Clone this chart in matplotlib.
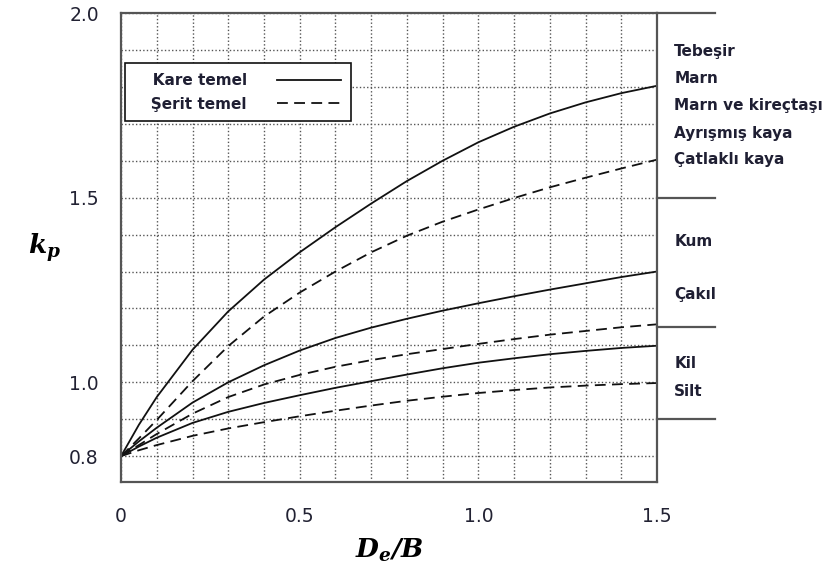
import numpy as np
import matplotlib.pyplot as plt
from matplotlib.ticker import MultipleLocator

plt.rcParams['font.family'] = ['DejaVu Sans']
plt.rcParams['mathtext.fontset'] = 'dejavuserif'

# D_e/B values
x = [0.0, 0.05, 0.1, 0.2, 0.3, 0.4, 0.5, 0.6, 0.7, 0.8, 0.9, 1.0, 1.1, 1.2, 1.3, 1.4, 1.5]

# kp (kare = square footing, serit = strip footing)
kare_kaya = [0.80, 0.885, 0.960, 1.088, 1.192, 1.278, 1.352, 1.420, 1.484, 1.545, 1.600, 1.650, 1.692, 1.728, 1.758, 1.783, 1.803]
serit_kaya = [0.80, 0.848, 0.898, 1.003, 1.098, 1.178, 1.243, 1.300, 1.352, 1.397, 1.435, 1.468, 1.499, 1.528, 1.554, 1.579, 1.603]
kare_kum = [0.80, 0.840, 0.877, 0.945, 1.000, 1.046, 1.086, 1.120, 1.148, 1.172, 1.194, 1.214, 1.233, 1.251, 1.268, 1.285, 1.300]
serit_kum = [0.80, 0.830, 0.860, 0.915, 0.960, 0.994, 1.020, 1.042, 1.060, 1.076, 1.090, 1.104, 1.117, 1.129, 1.139, 1.149, 1.157]
kare_kil = [0.80, 0.826, 0.850, 0.890, 0.920, 0.944, 0.965, 0.985, 1.003, 1.021, 1.038, 1.053, 1.065, 1.076, 1.085, 1.093, 1.099]
serit_kil = [0.80, 0.816, 0.830, 0.855, 0.875, 0.892, 0.908, 0.923, 0.937, 0.950, 0.961, 0.971, 0.979, 0.986, 0.991, 0.995, 0.998]

# soil groups on the right side
group_bounds = [2.0, 1.5, 1.15, 0.9]
group_labels = ['Tebeşir', 'Marn', 'Marn ve kireçtaşı', 'Ayrışmış kaya', 'Çatlaklı kaya',
                'Kum', 'Çakıl', 'Kil', 'Silt']
group_label_y = [1.896, 1.824, 1.749, 1.675, 1.603, 1.381, 1.237, 1.051, 0.976]

fig = plt.figure(figsize=(8.29, 5.81), dpi=100)
ax = fig.add_axes([0.146, 0.1704, 0.6466, 0.8072])

ink = '#111111'
dash = (0, (6, 3.5))
ax.plot(x, kare_kaya, color=ink, lw=1.3, label='   Kare temel')
ax.plot(x, serit_kaya, color=ink, lw=1.3, ls=dash, label='   Şerit temel')
ax.plot(x, kare_kum, color=ink, lw=1.3)
ax.plot(x, serit_kum, color=ink, lw=1.3, ls=dash)
ax.plot(x, kare_kil, color=ink, lw=1.3)
ax.plot(x, serit_kil, color=ink, lw=1.3, ls=dash)

ax.set_xlim(0, 1.5)
ax.set_ylim(0.73, 2.0)
ax.set_xticks([0, 0.5, 1.0, 1.5])
ax.set_xticklabels(['0', '0.5', '1.0', '1.5'])
ax.set_yticks([0.8, 1.0, 1.5, 2.0])
ax.set_yticklabels(['0.8', '1.0', '1.5', '2.0'])
ax.xaxis.set_minor_locator(MultipleLocator(0.1))
ax.yaxis.set_minor_locator(MultipleLocator(0.1))
ax.tick_params(which='both', length=0, labelsize=13.5, labelcolor='#222233')
ax.tick_params(axis='x', pad=18)
ax.tick_params(axis='y', pad=16)
ax.grid(which='both', color='#555555', lw=1.0, ls=(0, (1, 1.6)))
ax.set_axisbelow(True)
for s in ax.spines.values():
    s.set_color('#555555')
    s.set_linewidth(1.6)

# separators and labels for soil types
for b in group_bounds:
    ax.plot([1.5, 1.662], [b, b], color='#555555', lw=1.6, clip_on=False)
for lab, yy in zip(group_labels, group_label_y):
    ax.text(1.548, yy, lab, fontsize=11, fontweight='bold', color='#1f1f33',
            va='center', ha='left')

leg = ax.legend(loc='upper left', bbox_to_anchor=(0.008, 0.893), borderaxespad=0,
                markerfirst=False, fancybox=False, framealpha=1, edgecolor='#111111',
                handlelength=4.2, handletextpad=2.0, borderpad=0.65, labelspacing=0.55,
                prop={'size': 11, 'weight': 'bold'})
leg.get_frame().set_linewidth(1.2)
for t in leg.get_texts():
    t.set_color('#1f1f33')

ax.set_xlabel(r'$\mathbfit{D_e/B}$', fontsize=19, labelpad=8)
ax.set_ylabel(r'$\mathbfit{k_p}$', fontsize=19, rotation=0, labelpad=18, va='center')

fig.savefig('out.png', dpi=100)
